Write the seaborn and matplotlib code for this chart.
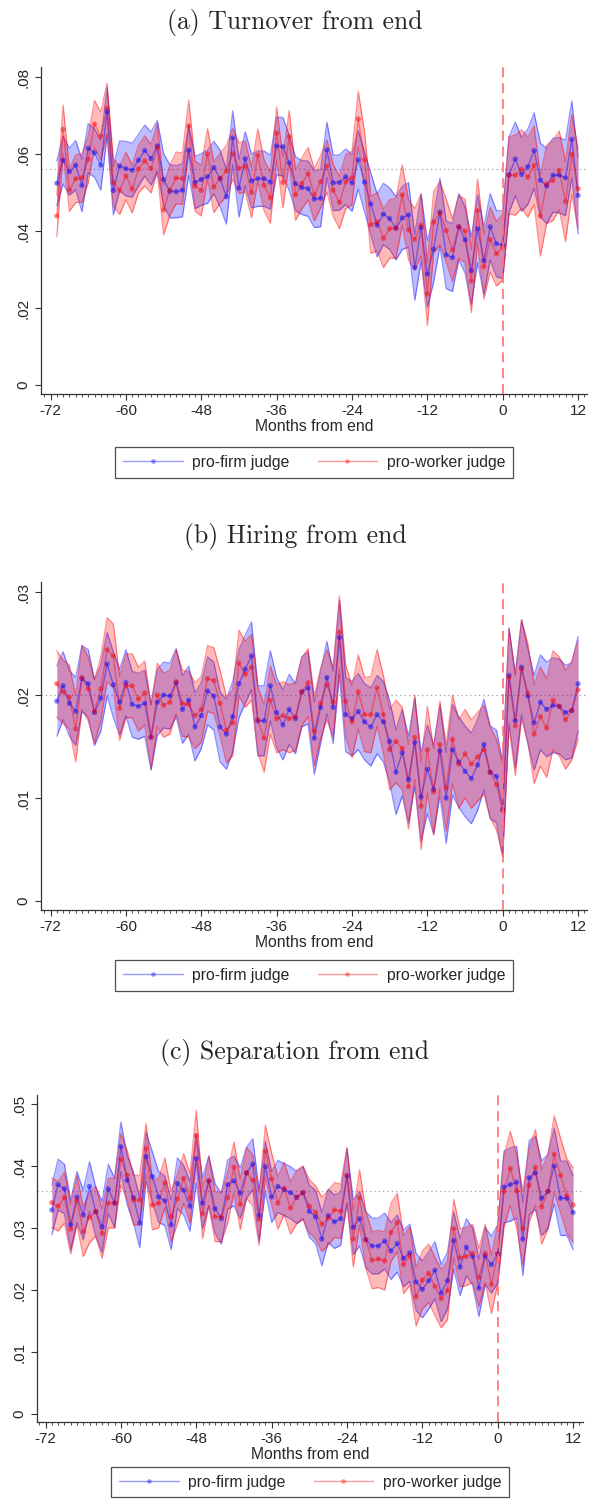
import numpy as np
import pandas as pd
import matplotlib
matplotlib.use("Agg")
import matplotlib.pyplot as plt
import seaborn as sns
from matplotlib.lines import Line2D
from matplotlib.ticker import FixedLocator, MultipleLocator

sns.set_style("white")
plt.rcParams['font.family'] = ['Liberation Sans', 'DejaVu Sans']

months = list(range(-71, 13))
x_major = [-72, -60, -48, -36, -24, -12, 0, 12]
x_major_labels = ["-72", "-60", "-48", "-36", "-24", "-12", "0", "12"]
series_names = ["pro-firm judge", "pro-worker judge"]
xlabel_text = "Months from end"

# ---------------- (a) Turnover ----------------
title_a = "(a) Turnover from end"
firm_a = [.0524, .0584, .0554, .0571, .0518, .0615, .0603, .0571, .0710, .0505, .0569, .0562, .0558, .0584,
          .0609, .0588, .0621, .0534, .0503, .0502, .0506, .0610, .0526, .0534, .0541, .0565, .0536, .0489,
          .0642, .0511, .0588, .0530, .0536, .0536, .0527, .0621, .0619, .0577, .0523, .0513, .0510, .0483,
          .0485, .0611, .0525, .0526, .0541, .0525, .0585, .0527, .0470, .0415, .0444, .0432, .0407, .0434, .0442,
          .0305, .0409, .0288, .0353, .0449, .0338, .0331, .0411, .0377, .0297, .0406, .0323, .0411, .0367,
          .0364, .0546, .0587, .0547, .0567, .0609, .0532, .0517, .0545, .0545, .0538, .0638, .0492]
firm_a_hw = [.0058, .0062, .0061, .0064, .0068, .0064, .0063, .0065, .0062, .0063, .0065, .0071, .0070, .0067,
             .0066, .0069, .0066, .0067, .0069, .0068, .0069, .0065, .0068, .0067, .0069, .0068, .0074, .0071,
             .0070, .0075, .0070, .0070, .0072, .0072, .0070, .0075, .0076, .0072, .0070, .0070, .0072, .0074,
             .0074, .0072, .0072, .0072, .0072, .0074, .0076, .0078, .0080, .0082, .0080, .0080, .0082, .0082, .0084,
             .0085, .0088, .0086, .0086, .0088, .0088, .0088, .0086, .0086, .0088, .0088, .0088, .0086, .0086,
             .0088, .0098, .0096, .0096, .0098, .0098, .0096, .0098, .0096, .0098, .0098, .0100, .0100]
worker_a = [.0439, .0664, .0506, .0536, .0538, .0586, .0678, .0646, .0719, .0526, .0506, .0543, .0509, .0561,
            .0582, .0562, .0616, .0455, .0506, .0538, .0536, .0673, .0517, .0505, .0600, .0514, .0537, .0556,
            .0601, .0563, .0568, .0500, .0597, .0519, .0486, .0654, .0526, .0645, .0494, .0523, .0549, .0494,
            .0528, .0569, .0506, .0474, .0528, .0538, .0691, .0585, .0416, .0424, .0381, .0406, .0407, .0494, .0403,
            .0378, .0416, .0236, .0423, .0446, .0401, .0351, .0411, .0400, .0270, .0453, .0307, .0378, .0341,
            .0358, .0545, .0545, .0561, .0540, .0571, .0439, .0522, .0531, .0558, .0476, .0599, .0510]
worker_a_hw = [.0054, .0063, .0055, .0062, .0063, .0061, .0061, .0063, .0065, .0062, .0063, .0062, .0062, .0062,
               .0065, .0063, .0063, .0065, .0065, .0067, .0067, .0067, .0065, .0066, .0066, .0066, .0065, .0066,
               .0066, .0066, .0066, .0066, .0068, .0066, .0066, .0068, .0066, .0068, .0066, .0066, .0068, .0068,
               .0068, .0068, .0068, .0068, .0070, .0070, .0072, .0072, .0074, .0076, .0076, .0076, .0078, .0078, .0078,
               .0080, .0080, .0082, .0080, .0082, .0082, .0082, .0082, .0082, .0082, .0082, .0084, .0084, .0084,
               .0086, .0100, .0104, .0102, .0104, .0102, .0104, .0102, .0104, .0102, .0104, .0104, .0104]
mean_a = 0.056
yticks_a = [0, .02, .04, .06, .08]
ylabels_a = ["0", ".02", ".04", ".06", ".08"]

# ---------------- (b) Hiring ----------------
title_b = "(b) Hiring from end"
firm_b = [.0194, .0209, .0192, .0184, .0216, .0211, .0183, .0197, .0230, .0210, .0193, .0212, .0191, .0189,
          .0192, .0159, .0193, .0200, .0199, .0212, .0186, .0195, .0169, .0180, .0204, .0199, .0169, .0162,
          .0179, .0211, .0225, .0238, .0175, .0175, .0209, .0183, .0171, .0186, .0177, .0203, .0207, .0158,
          .0188, .0217, .0188, .0256, .0181, .0177, .0184, .0174, .0169, .0181, .0174, .0155, .0125, .0144, .0118,
          .0154, .0101, .0128, .0108, .0146, .0100, .0147, .0135, .0126, .0119, .0132, .0152, .0125, .0121,
          .0089, .0219, .0175, .0227, .0199, .0173, .0193, .0186, .0190, .0189, .0183, .0185, .0211]
firm_b_hw = [.0034, .0033, .0032, .0033, .0032, .0033, .0032, .0032, .0031, .0032, .0032, .0032, .0032, .0032,
             .0032, .0032, .0032, .0032, .0032, .0033, .0033, .0033, .0033, .0032, .0033, .0033, .0034, .0034,
             .0034, .0033, .0033, .0033, .0034, .0034, .0034, .0034, .0034, .0034, .0034, .0034, .0035, .0035,
             .0035, .0035, .0035, .0036, .0036, .0036, .0037, .0037, .0038, .0038, .0039, .0040, .0041, .0042, .0042,
             .0043, .0043, .0043, .0043, .0044, .0044, .0044, .0044, .0044, .0044, .0044, .0044, .0045, .0045,
             .0046, .0046, .0046, .0046, .0046, .0046, .0046, .0046, .0046, .0046, .0046, .0046, .0046]
worker_b = [.0211, .0203, .0198, .0167, .0217, .0206, .0184, .0206, .0244, .0238, .0187, .0209, .0209, .0196,
            .0202, .0159, .0200, .0190, .0193, .0213, .0192, .0191, .0180, .0186, .0216, .0214, .0192, .0166,
            .0173, .0231, .0220, .0227, .0176, .0158, .0195, .0177, .0180, .0177, .0179, .0203, .0212, .0165,
            .0192, .0210, .0193, .0261, .0194, .0174, .0203, .0181, .0181, .0207, .0181, .0147, .0155, .0148, .0111,
            .0159, .0092, .0147, .0106, .0152, .0110, .0157, .0133, .0143, .0133, .0140, .0147, .0125, .0113,
            .0088, .0217, .0170, .0225, .0202, .0162, .0179, .0168, .0195, .0189, .0176, .0185, .0205]
worker_b_hw = [.0032, .0031, .0031, .0032, .0031, .0031, .0031, .0031, .0031, .0031, .0031, .0031, .0031, .0031,
               .0031, .0031, .0031, .0031, .0031, .0031, .0032, .0032, .0032, .0032, .0032, .0032, .0032, .0032,
               .0032, .0032, .0032, .0032, .0032, .0033, .0033, .0033, .0033, .0033, .0033, .0033, .0033, .0034,
               .0034, .0034, .0034, .0035, .0035, .0035, .0036, .0036, .0037, .0037, .0038, .0039, .0040, .0040, .0041,
               .0041, .0042, .0042, .0042, .0042, .0042, .0043, .0043, .0043, .0043, .0043, .0043, .0044, .0044,
               .0045, .0048, .0048, .0048, .0048, .0048, .0048, .0048, .0048, .0048, .0048, .0048, .0048]
mean_b = 0.020
yticks_b = [0, .01, .02, .03]
ylabels_b = ["0", ".01", ".02", ".03"]

# ---------------- (c) Separation ----------------
title_c = "(c) Separation from end"
firm_c = [.0329, .0370, .0363, .0305, .0350, .0321, .0367, .0326, .0302, .0363, .0340, .0431, .0377, .0349,
          .0308, .0415, .0383, .0350, .0344, .0305, .0372, .0361, .0335, .0412, .0340, .0376, .0331, .0315, .0370,
          .0376, .0356, .0389, .0403, .0320, .0399, .0350, .0367, .0362, .0357, .0349, .0357, .0327, .0318,
          .0282, .0320, .0310, .0315, .0384, .0301, .0315, .0281, .0271, .0271, .0279, .0263, .0275, .0251, .0260,
          .0213, .0201, .0215, .0232, .0195, .0215, .0280, .0237, .0269, .0254, .0203, .0255, .0241, .0258,
          .0366, .0370, .0374, .0282, .0381, .0389, .0348, .0359, .0400, .0348, .0348, .0325]
firm_c_hw = [.0040, .0041, .0040, .0040, .0041, .0040, .0040, .0040, .0041, .0040, .0040, .0040, .0040, .0041,
             .0040, .0040, .0040, .0041, .0040, .0040, .0041, .0040, .0040, .0040, .0041, .0040, .0040, .0041, .0040,
             .0040, .0041, .0041, .0041, .0041, .0041, .0041, .0042, .0042, .0042, .0042, .0042, .0042, .0043,
             .0043, .0043, .0043, .0043, .0044, .0044, .0044, .0045, .0045, .0045, .0045, .0046, .0046, .0046, .0046,
             .0046, .0046, .0046, .0046, .0046, .0046, .0046, .0046, .0046, .0046, .0046, .0046, .0046, .0047,
             .0058, .0059, .0058, .0059, .0060, .0059, .0060, .0060, .0061, .0060, .0060, .0060]
worker_c = [.0341, .0335, .0349, .0298, .0345, .0294, .0317, .0327, .0291, .0340, .0340, .0411, .0385, .0345,
            .0345, .0428, .0337, .0340, .0373, .0318, .0347, .0380, .0348, .0449, .0323, .0376, .0318, .0318, .0349,
            .0398, .0338, .0389, .0377, .0314, .0424, .0379, .0340, .0364, .0332, .0350, .0357, .0335, .0325,
            .0306, .0316, .0329, .0327, .0385, .0282, .0349, .0281, .0248, .0250, .0247, .0293, .0309, .0241, .0255,
            .0189, .0216, .0227, .0206, .0186, .0199, .0299, .0252, .0254, .0259, .0220, .0259, .0209, .0258,
            .0359, .0396, .0360, .0299, .0369, .0398, .0334, .0359, .0419, .0385, .0352, .0337]
worker_c_hw = [.0040, .0040, .0041, .0040, .0040, .0040, .0041, .0040, .0040, .0040, .0040, .0041, .0040, .0040,
               .0040, .0041, .0040, .0040, .0040, .0041, .0040, .0040, .0040, .0041, .0040, .0040, .0040, .0040, .0041,
               .0041, .0041, .0041, .0041, .0042, .0042, .0042, .0042, .0042, .0042, .0043, .0043, .0043, .0043,
               .0044, .0044, .0044, .0044, .0045, .0045, .0045, .0046, .0046, .0046, .0047, .0047, .0047, .0047, .0047,
               .0047, .0047, .0047, .0047, .0047, .0047, .0047, .0047, .0047, .0047, .0047, .0047, .0047, .0048,
               .0058, .0060, .0059, .0060, .0060, .0061, .0060, .0060, .0062, .0060, .0060, .0060]
mean_c = 0.036
yticks_c = [0, .01, .02, .03, .04, .05]
ylabels_c = ["0", ".01", ".02", ".03", ".04", ".05"]

BLUE = "#0000ff"
RED = "#ff0000"
W, H = 590, 1501


def px_axes(left, top, right, bottom):
    return [left / W, 1 - bottom / H, (right - left) / W, (bottom - top) / H]


def draw_panel(fig, rect, xlim, ylim, title, title_y, firm, firm_hw, worker, worker_hw,
               mean, yticks, ylabels, legend_y):
    ax = fig.add_axes(rect)
    m = np.array(months)
    f = np.array(firm); fh = np.array(firm_hw)
    w = np.array(worker); wh = np.array(worker_hw)

    # confidence bands
    ax.fill_between(m, f - fh, f + fh, color=BLUE, alpha=0.26, lw=0, zorder=1)
    ax.plot(m, f - fh, color=BLUE, alpha=0.42, lw=0.9, zorder=1.1)
    ax.plot(m, f + fh, color=BLUE, alpha=0.42, lw=0.9, zorder=1.1)
    ax.fill_between(m, w - wh, w + wh, color=RED, alpha=0.27, lw=0, zorder=1.2)
    ax.plot(m, w - wh, color=RED, alpha=0.42, lw=0.9, zorder=1.3)
    ax.plot(m, w + wh, color=RED, alpha=0.42, lw=0.9, zorder=1.3)

    df = pd.DataFrame({
        "month": months * 2,
        "value": list(firm) + list(worker),
        "judge": [series_names[0]] * len(months) + [series_names[1]] * len(months),
    })
    pal = {series_names[0]: BLUE, series_names[1]: RED}
    sns.lineplot(data=df, x="month", y="value", hue="judge", palette=pal, errorbar=None,
                 lw=1.0, alpha=0.4, legend=False, ax=ax, zorder=3)
    sns.scatterplot(data=df, x="month", y="value", hue="judge", palette=pal, s=14,
                    alpha=0.48, linewidth=0, legend=False, ax=ax, zorder=4)

    ax.axhline(mean, color="#a0a0a0", ls=(0, (1, 2.5)), lw=0.9, zorder=0.5)
    ax.axvline(0, color="#ff7070", ls=(0, (6, 3.5)), lw=1.2, zorder=5)

    ax.set_xlim(*xlim)
    ax.set_ylim(*ylim)
    ax.xaxis.set_major_locator(FixedLocator(x_major))
    ax.set_xticklabels(x_major_labels)
    ax.xaxis.set_minor_locator(MultipleLocator(1))
    ax.yaxis.set_major_locator(FixedLocator(yticks))
    ax.set_yticklabels(ylabels, rotation=90, va="center")
    ax.tick_params(axis="both", which="major", direction="out", length=4.5, width=0.8,
                   color="#333333", labelsize=11, pad=3.0, bottom=True, left=True)
    ax.tick_params(axis="x", which="minor", direction="out", length=2.0, width=0.6,
                   color="#333333", bottom=True)
    for s in ["top", "right"]:
        ax.spines[s].set_visible(False)
    for s in ["left", "bottom"]:
        ax.spines[s].set_color("#333333")
        ax.spines[s].set_linewidth(0.9)
    ax.set_xlabel(xlabel_text, fontsize=11.3, labelpad=0.5)
    ax.set_ylabel("")
    ax.grid(False)

    handles = [Line2D([0], [0], color=BLUE, alpha=0.4, lw=1, marker="o", markersize=3.3,
                      markerfacecolor=BLUE, markeredgewidth=0),
               Line2D([0], [0], color=RED, alpha=0.4, lw=1, marker="o", markersize=3.3,
                      markerfacecolor=RED, markeredgewidth=0)]
    leg = ax.legend(handles, series_names, loc="upper center", bbox_to_anchor=(0.5, legend_y),
                    ncol=2, frameon=True, fancybox=False, edgecolor="#222222", fontsize=11.3,
                    handlelength=3.8, columnspacing=1.8, borderpad=0.5, handletextpad=0.6,
                    borderaxespad=0)
    leg.get_frame().set_linewidth(0.9)

    fig.text(0.5, title_y, title, ha="center", va="center", fontsize=18.5,
             family=["cmr10", "DejaVu Serif"])
    return ax


fig = plt.figure(figsize=(W / 100, H / 100), dpi=100)

# panel (a): 0 at y=385 px, 0.02 per 77 px; x: 0 at 502.7 px, 6.28 px/month
draw_panel(fig, px_axes(41, 67, 587, 394), (-73.52, 13.42), (-0.00234, 0.0826),
           title_a, 1 - 22 / H, firm_a, firm_a_hw, worker_a, worker_a_hw,
           mean_a, yticks_a, ylabels_a, -0.162)
draw_panel(fig, px_axes(41, 582, 587, 910), (-73.52, 13.42), (-0.00087, 0.03097),
           title_b, 1 - 537 / H, firm_b, firm_b_hw, worker_b, worker_b_hw,
           mean_b, yticks_b, ylabels_b, -0.152)
draw_panel(fig, px_axes(37, 1095, 583, 1422), (-73.36, 13.58), (-0.00129, 0.05145),
           title_c, 1 - 1052 / H, firm_c, firm_c_hw, worker_c, worker_c_hw,
           mean_c, yticks_c, ylabels_c, -0.137)

fig.savefig("out.png", dpi=100)
